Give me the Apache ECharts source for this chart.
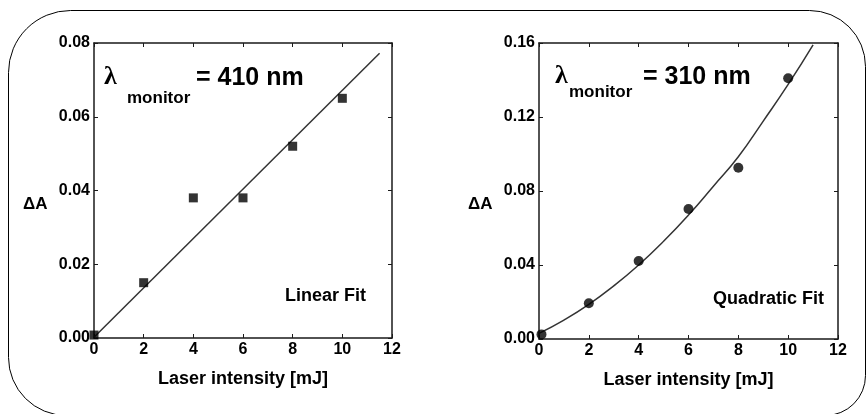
<!DOCTYPE html>
<html>
<head>
<meta charset="utf-8">
<script src="https://cdn.jsdelivr.net/npm/echarts@6/dist/echarts.min.js"></script>
<style>
html, body { margin: 0; padding: 0; background: #fff; }
#chart { width: 867px; height: 414px; }
</style>
</head>
<body>
<div id="chart"></div>
<script>
// left panel: lambda monitor = 410 nm
const leftPoints = [[0, 0.0008], [2, 0.015], [4, 0.038], [6, 0.038], [8, 0.052], [10, 0.065]];
const leftFit = [[0, 0.0002], [11.5, 0.0772]];

// right panel: lambda monitor = 310 nm
const rightPoints = [[0.1, 0.0025], [2, 0.0193], [4, 0.0422], [6, 0.0703], [8, 0.0926], [10, 0.1409]];
const rightFit = [[0, 0.003], [1, 0.0102], [2, 0.0187], [3, 0.0287], [4, 0.040], [5, 0.0528],
    [6, 0.067], [7, 0.0826], [8, 0.0985], [9, 0.1178], [10, 0.1376], [11, 0.159]];

const xTicks = { min: 0, max: 12, interval: 2 };
const leftY = { min: 0, max: 0.08, interval: 0.02 };
const rightY = { min: 0, max: 0.16, interval: 0.04 };

const font = '"Liberation Sans", Arial, sans-serif';
const serif = '"Liberation Serif", "DejaVu Serif", serif';
const axisColor = '#1a1a1a';

const chart = echarts.init(document.getElementById('chart'));

function xAx(grid, pos) {
    const main = pos === 'bottom';
    return {
        type: 'value', gridIndex: grid, position: pos,
        min: xTicks.min, max: xTicks.max, interval: xTicks.interval,
        name: main ? 'Laser intensity [mJ]' : '',
        nameLocation: 'middle', nameGap: 32,
        nameTextStyle: { fontFamily: font, fontWeight: 'bold', fontSize: 18, color: '#000' },
        axisLine: { show: true, onZero: false, lineStyle: { color: axisColor, width: 1.5 } },
        axisTick: { show: true, inside: true, length: 4, lineStyle: { color: axisColor, width: 1 } },
        axisLabel: { show: main, margin: 4, fontFamily: font, fontWeight: 'bold', fontSize: 16, color: '#000' },
        splitLine: { show: false }
    };
}

function yAx(grid, pos, range) {
    const main = pos === 'left';
    return {
        type: 'value', gridIndex: grid, position: pos,
        min: range.min, max: range.max, interval: range.interval,
        axisLine: { show: true, onZero: false, lineStyle: { color: axisColor, width: 1.5 } },
        axisTick: { show: true, inside: true, length: 4, lineStyle: { color: axisColor, width: 1 } },
        axisLabel: {
            show: main, margin: 4, fontFamily: font, fontWeight: 'bold', fontSize: 16, color: '#000',
            formatter: v => v.toFixed(2)
        },
        splitLine: { show: false }
    };
}

// y is the vertical middle of the text
function txt(x, y, text, size, weight, family) {
    return {
        type: 'text', x: x, y: y, z: 100,
        style: {
            text: text, fontFamily: family || font, fontSize: size, fontWeight: weight,
            fill: '#000', align: 'left', verticalAlign: 'middle'
        }
    };
}

const option = {
    backgroundColor: '#fff',
    animation: false,
    grid: [
        { left: 94, top: 43, width: 298, height: 295 },
        { left: 539, top: 43, width: 299, height: 296 }
    ],
    xAxis: [xAx(0, 'bottom'), xAx(0, 'top'), xAx(1, 'bottom'), xAx(1, 'top')],
    yAxis: [yAx(0, 'left', leftY), yAx(0, 'right', leftY), yAx(1, 'left', rightY), yAx(1, 'right', rightY)],
    series: [
        {
            type: 'line', xAxisIndex: 0, yAxisIndex: 0, data: leftFit,
            showSymbol: false, symbol: 'none', clip: false,
            lineStyle: { color: '#333', width: 1.5 }, z: 2
        },
        {
            type: 'scatter', xAxisIndex: 0, yAxisIndex: 0, data: leftPoints,
            symbol: 'rect', symbolSize: 9, clip: false,
            itemStyle: { color: '#000' }, z: 3
        },
        {
            type: 'line', xAxisIndex: 2, yAxisIndex: 2, data: rightFit,
            showSymbol: false, symbol: 'none', smooth: true, clip: false,
            lineStyle: { color: '#333', width: 1.5 }, z: 2
        },
        {
            type: 'scatter', xAxisIndex: 2, yAxisIndex: 2, data: rightPoints,
            symbol: 'circle', symbolSize: 10, clip: false,
            itemStyle: { color: '#000' }, z: 3
        }
    ],
    graphic: [
        {
            type: 'rect', z: 0,
            shape: { x: 8.5, y: 10.5, width: 857, height: 405, r: [62, 56, 40, 58] },
            style: { fill: 'none', stroke: '#000', lineWidth: 1 }
        },
        txt(23, 204, 'ΔA', 17, 'bold'),
        txt(468, 204, 'ΔA', 17, 'bold'),
        txt(104, 77, 'λ', 26, 'bold', serif),
        txt(127, 98, 'monitor', 17, 'bold'),
        txt(196, 78, '= 410 nm', 25, 'bold'),
        txt(285, 296, 'Linear Fit', 18, 'bold'),
        txt(555, 76, 'λ', 26, 'bold', serif),
        txt(569, 92, 'monitor', 17, 'bold'),
        txt(643, 77, '= 310 nm', 25, 'bold'),
        txt(713, 299, 'Quadratic Fit', 18, 'bold')
    ]
};

chart.setOption(option);
</script>
</body>
</html>
